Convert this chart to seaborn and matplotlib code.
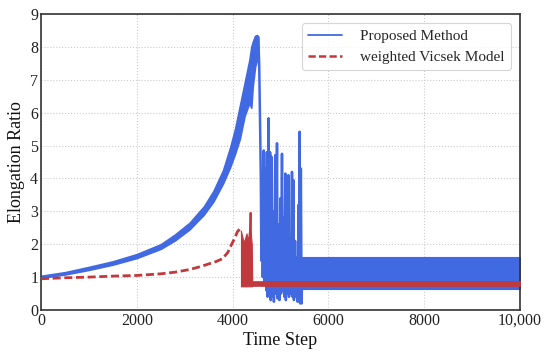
import numpy as np
import pandas as pd
import matplotlib
matplotlib.use("Agg")
import matplotlib.pyplot as plt
import seaborn as sns

# ---------------- data ----------------
# Proposed Method: oscillation envelope during growth
blue_env_t  = [0, 500, 1000, 1500, 2000, 2500, 2800, 3100, 3400, 3600, 3800, 3950,
               4050, 4150, 4250, 4350, 4390, 4420, 4470, 4510, 4535]
blue_env_lo = [0.98, 1.08, 1.22, 1.38, 1.58, 1.86, 2.12, 2.45, 2.90, 3.30, 3.85, 4.35,
               4.75, 5.20, 5.90, 6.30, 6.15, 6.80, 7.40, 7.60, 7.80]
blue_env_hi = [1.04, 1.15, 1.31, 1.48, 1.70, 2.00, 2.30, 2.65, 3.15, 3.62, 4.25, 4.95,
               5.50, 6.20, 6.90, 7.60, 8.00, 8.15, 8.34, 8.36, 8.30]

# Proposed Method: collapse / chaotic phase
blue_chaos_t = [4535, 4555, 4575, 4590, 4600, 4615, 4630, 4650, 4665, 4690, 4705, 4715,
                4730, 4752, 4765, 4782, 4795, 4810, 4825, 4850, 4862, 4890, 4903, 4927,
                4940, 4965, 4978, 5000, 5012, 5031, 5045, 5070, 5082, 5100, 5112, 5135,
                5148, 5165, 5178, 5200, 5212, 5240, 5252, 5268, 5280, 5305, 5318, 5345,
                5358, 5378, 5390, 5399, 5410, 5425, 5440, 5455]
blue_chaos_v = [8.30, 7.50, 5.50, 3.90, 1.50, 4.10, 1.00, 4.85, 0.80, 4.30, 0.60, 4.80,
                0.40, 5.83, 0.50, 4.80, 0.30, 4.66, 0.40, 3.00, 0.25, 4.71, 0.50, 5.07,
                0.35, 2.60, 0.30, 3.40, 0.50, 4.75, 0.60, 2.80, 0.40, 4.15, 0.30, 2.20,
                0.50, 4.10, 0.40, 1.80, 0.50, 4.20, 0.40, 3.95, 0.30, 2.10, 0.40, 1.60,
                0.25, 3.20, 0.30, 5.42, 0.20, 4.30, 0.20, 1.30]

# Proposed Method: steady oscillation band
blue_steady_t  = [5455, 10000]
blue_steady_lo = [0.63, 0.63]
blue_steady_hi = [1.62, 1.62]

# weighted Vicsek Model: smooth growth (dashed)
red_t = [0, 500, 1000, 1500, 2000, 2500, 2800, 3100, 3330, 3500, 3650, 3790, 3900,
         3950, 4050, 4100, 4160, 4175]
red_v = [0.95, 0.98, 1.00, 1.03, 1.05, 1.10, 1.15, 1.23, 1.32, 1.40, 1.47, 1.56, 1.75,
         1.91, 2.20, 2.38, 2.48, 2.40]
# weighted Vicsek Model: dense oscillation block
red_blk_t  = [4175, 4190, 4235, 4290, 4320, 4350, 4375, 4400, 4410]
red_blk_lo = [0.72, 0.72, 0.72, 0.72, 0.72, 0.72, 0.72, 0.72, 0.74]
red_blk_hi = [2.40, 2.30, 2.05, 2.33, 2.10, 2.50, 2.40, 2.00, 0.88]
# spike
red_spike_t = [4372, 4376]
red_spike_v = [2.30, 2.94]
# steady band
red_steady_t  = [4410, 10000]
red_steady_lo = [0.74, 0.74]
red_steady_hi = [0.88, 0.88]

x_ticks = [0, 2000, 4000, 6000, 8000, 10000]
x_tick_labels = ["0", "2000", "4000", "6000", "8000", "10,000"]
y_ticks = [0, 1, 2, 3, 4, 5, 6, 7, 8, 9]

BLUE = "#4169E1"
RED = "#C0393D"

# ---------------- style ----------------
sns.set_theme(style="white")
plt.rcParams["font.family"] = ["Liberation Serif", "DejaVu Serif"]
plt.rcParams["mathtext.fontset"] = "stix"

fig = plt.figure(figsize=(5.5, 3.59), dpi=100)
ax = fig.add_axes([0.0745, 0.1365, 0.871, 0.8245])

# ---------------- Proposed Method ----------------
ax.fill_between(blue_env_t, blue_env_lo, blue_env_hi, color=BLUE, lw=1.2, zorder=2)
sns.lineplot(x=blue_chaos_t, y=blue_chaos_v, ax=ax, color=BLUE, lw=1.8,
             sort=False, estimator=None, label="Proposed Method", zorder=2)
ax.fill_between(blue_steady_t, blue_steady_lo, blue_steady_hi, color=BLUE, lw=0.8, zorder=2)

# ---------------- weighted Vicsek Model ----------------
sns.lineplot(x=red_t, y=red_v, ax=ax, color=RED, lw=2.0, dashes=False,
             sort=False, estimator=None, label="weighted Vicsek Model", zorder=3)
ax.lines[-1].set_dashes((2.9, 1.3))
ax.fill_between(red_blk_t, red_blk_lo, red_blk_hi, color=RED, lw=0.8, zorder=3)
sns.lineplot(x=red_spike_t, y=red_spike_v, ax=ax, color=RED, lw=2.0,
             sort=False, estimator=None, zorder=3)
ax.fill_between(red_steady_t, red_steady_lo, red_steady_hi, color=RED, lw=0.5, zorder=3)

# ---------------- axes ----------------
ax.set_xlim(0, 10000)
ax.set_ylim(0, 9)
ax.set_xticks(x_ticks)
ax.set_xticklabels(x_tick_labels)
ax.set_yticks(y_ticks)
ax.tick_params(axis="both", direction="in", length=4, width=1, labelsize=11.5,
               colors="#222222", pad=2)
ax.grid(True, linestyle=":", color="#cccccc", lw=0.8)
for s in ax.spines.values():
    s.set_color("#333333")
    s.set_linewidth(1.2)

ax.set_xlabel("Time Step", fontsize=13, color="#111111", labelpad=2)
ax.set_ylabel("Elongation Ratio", fontsize=13, color="#111111", labelpad=4)

leg = ax.legend(loc="upper right", fontsize=11, frameon=True, fancybox=True,
                edgecolor="#cccccc", borderaxespad=0.6, handlelength=2.2,
                handletextpad=1.2)
leg.get_frame().set_linewidth(0.8)
leg_lines = leg.get_lines()
leg_lines[0].set_linewidth(1.3)
leg_lines[1].set_linewidth(1.8)

fig.savefig("out.png", dpi=100)
